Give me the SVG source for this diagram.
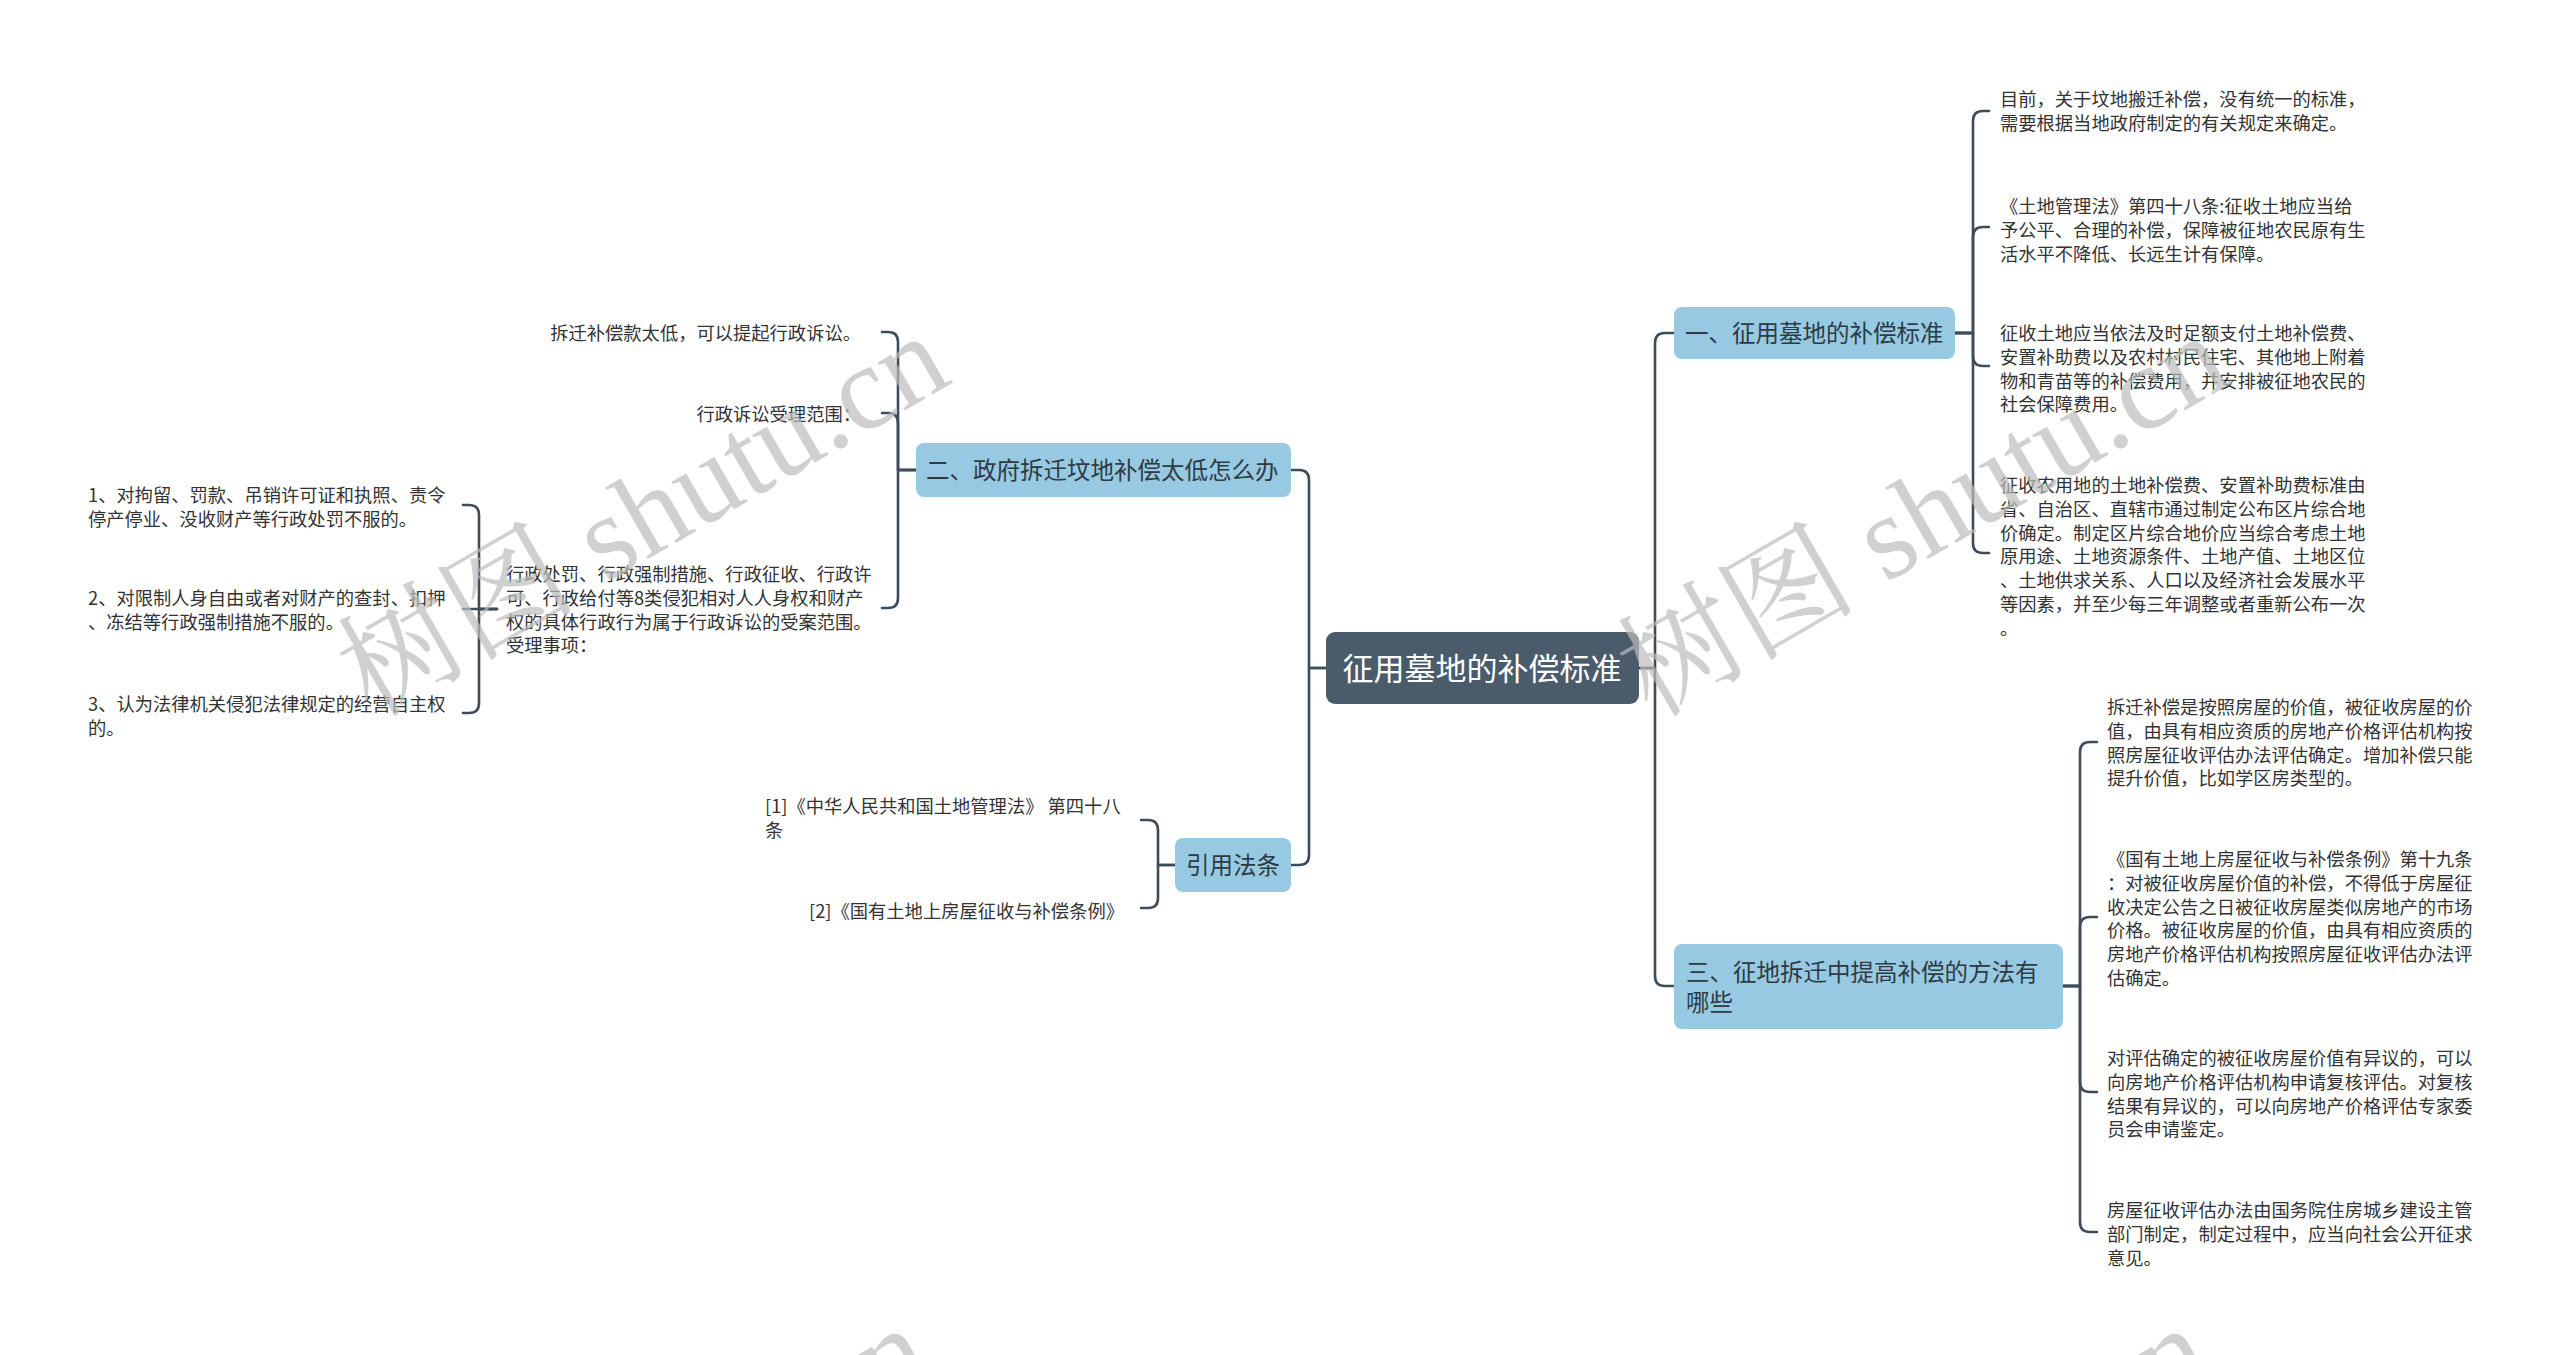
<svg xmlns="http://www.w3.org/2000/svg" width="2560" height="1355" viewBox="0 0 2560 1355">
<style>
.conn{fill:none;stroke:#3e4c5a;stroke-width:2.6;stroke-linecap:round;stroke-linejoin:round}
.leaf{font-family:"Noto Sans CJK SC","Noto Sans",sans-serif;font-size:18.3px;fill:#333333}
.l1box{fill:#97cae2}
.l1{font-family:"Noto Sans CJK SC","Noto Sans",sans-serif;font-size:23.5px;fill:#2e3a44}
.rootbox{fill:#4a5c6c}
.roottext{font-family:"Noto Sans CJK SC","Noto Sans",sans-serif;font-size:31px;fill:#ffffff}
.wm{font-family:"Liberation Serif","Noto Serif CJK SC","Noto Sans CJK SC",serif;font-size:120px;fill:#bdbdbd;opacity:0.7}
</style>
<rect width="2560" height="1355" fill="#ffffff"/>

<g id="connectors">
<path class="conn" d="M1639,668 H1655 V343 Q1655,333 1665,333 H1674"/>
<path class="conn" d="M1639,668 H1655 V976 Q1655,986 1665,986 H1674"/>
<path class="conn" d="M1955,333 H1973 V121 Q1973,111 1983,111 H1989"/>
<path class="conn" d="M1955,333 H1973 V237 Q1973,227 1983,227 H1989"/>
<path class="conn" d="M1955,333 H1973 V356 Q1973,366 1983,366 H1989"/>
<path class="conn" d="M1955,333 H1973 V543 Q1973,553 1983,553 H1989"/>
<path class="conn" d="M2063,986 H2080 V752 Q2080,742 2090,742 H2097"/>
<path class="conn" d="M2063,986 H2080 V927 Q2080,917 2090,917 H2097"/>
<path class="conn" d="M2063,986 H2080 V1082 Q2080,1092 2090,1092 H2097"/>
<path class="conn" d="M2063,986 H2080 V1222 Q2080,1232 2090,1232 H2097"/>
<path class="conn" d="M1326,668 H1309 V480 Q1309,470 1299,470 H1291"/>
<path class="conn" d="M1326,668 H1309 V855 Q1309,865 1299,865 H1291"/>
<path class="conn" d="M916,470 H898 V342 Q898,332 888,332 H882"/>
<path class="conn" d="M916,470 H898 V423 Q898,413 888,413 H882"/>
<path class="conn" d="M916,470 H898 V598 Q898,608 888,608 H882"/>
<path class="conn" d="M497,609 H479 V515 Q479,505 469,505 H463"/>
<path class="conn" d="M497,609 H463"/>
<path class="conn" d="M497,609 H479 V703 Q479,713 469,713 H463"/>
<path class="conn" d="M1175,865 H1158 V830 Q1158,820 1148,820 H1141"/>
<path class="conn" d="M1175,865 H1158 V898 Q1158,908 1148,908 H1141"/>
</g>

<g id="root">
<rect class="rootbox" x="1326" y="632" width="313" height="72" rx="9"/>
<text class="roottext" x="1482" y="680" text-anchor="middle">征用墓地的补偿标准</text>
</g>

<g id="node-1">
<rect class="l1box" x="1674" y="307" width="281" height="52" rx="8"/>
<text class="l1" x="1685" y="342">一、征用墓地的补偿标准</text>
</g>
<g id="node-1-1">
<text class="leaf" x="2000" y="106"><tspan x="2000">目前，关于坟地搬迁补偿，没有统一的标准，</tspan><tspan x="2000" dy="23.8">需要根据当地政府制定的有关规定来确定。</tspan></text>
</g>
<g id="node-1-2">
<text class="leaf" x="2000" y="213"><tspan x="2000">《土地管理法》第四十八条:征收土地应当给</tspan><tspan x="2000" dy="23.8">予公平、合理的补偿，保障被征地农民原有生</tspan><tspan x="2000" dy="23.8">活水平不降低、长远生计有保障。</tspan></text>
</g>
<g id="node-1-3">
<text class="leaf" x="2000" y="340"><tspan x="2000">征收土地应当依法及时足额支付土地补偿费、</tspan><tspan x="2000" dy="23.8">安置补助费以及农村村民住宅、其他地上附着</tspan><tspan x="2000" dy="23.8">物和青苗等的补偿费用，并安排被征地农民的</tspan><tspan x="2000" dy="23.8">社会保障费用。</tspan></text>
</g>
<g id="node-1-4">
<text class="leaf" x="2000" y="492"><tspan x="2000">征收农用地的土地补偿费、安置补助费标准由</tspan><tspan x="2000" dy="23.8">省、自治区、直辖市通过制定公布区片综合地</tspan><tspan x="2000" dy="23.8">价确定。制定区片综合地价应当综合考虑土地</tspan><tspan x="2000" dy="23.8">原用途、土地资源条件、土地产值、土地区位</tspan><tspan x="2000" dy="23.8">、土地供求关系、人口以及经济社会发展水平</tspan><tspan x="2000" dy="23.8">等因素，并至少每三年调整或者重新公布一次</tspan><tspan x="2000" dy="23.8">。</tspan></text>
</g>

<g id="node-3">
<rect class="l1box" x="1674" y="944" width="389" height="85" rx="8"/>
<text class="l1" x="1686" y="981"><tspan x="1686">三、征地拆迁中提高补偿的方法有</tspan><tspan x="1686" dy="30">哪些</tspan></text>
</g>
<g id="node-3-1">
<text class="leaf" x="2107" y="714"><tspan x="2107">拆迁补偿是按照房屋的价值，被征收房屋的价</tspan><tspan x="2107" dy="23.8">值，由具有相应资质的房地产价格评估机构按</tspan><tspan x="2107" dy="23.8">照房屋征收评估办法评估确定。增加补偿只能</tspan><tspan x="2107" dy="23.8">提升价值，比如学区房类型的。</tspan></text>
</g>
<g id="node-3-2">
<text class="leaf" x="2107" y="866"><tspan x="2107">《国有土地上房屋征收与补偿条例》第十九条</tspan><tspan x="2107" dy="23.8">：对被征收房屋价值的补偿，不得低于房屋征</tspan><tspan x="2107" dy="23.8">收决定公告之日被征收房屋类似房地产的市场</tspan><tspan x="2107" dy="23.8">价格。被征收房屋的价值，由具有相应资质的</tspan><tspan x="2107" dy="23.8">房地产价格评估机构按照房屋征收评估办法评</tspan><tspan x="2107" dy="23.8">估确定。</tspan></text>
</g>
<g id="node-3-3">
<text class="leaf" x="2107" y="1065"><tspan x="2107">对评估确定的被征收房屋价值有异议的，可以</tspan><tspan x="2107" dy="23.8">向房地产价格评估机构申请复核评估。对复核</tspan><tspan x="2107" dy="23.8">结果有异议的，可以向房地产价格评估专家委</tspan><tspan x="2107" dy="23.8">员会申请鉴定。</tspan></text>
</g>
<g id="node-3-4">
<text class="leaf" x="2107" y="1217"><tspan x="2107">房屋征收评估办法由国务院住房城乡建设主管</tspan><tspan x="2107" dy="23.8">部门制定，制定过程中，应当向社会公开征求</tspan><tspan x="2107" dy="23.8">意见。</tspan></text>
</g>

<g id="node-2">
<rect class="l1box" x="916" y="443" width="375" height="54" rx="8"/>
<text class="l1" x="926" y="479">二、政府拆迁坟地补偿太低怎么办</text>
</g>
<g id="node-2-1">
<text class="leaf" x="861" y="340" text-anchor="end">拆迁补偿款太低，可以提起行政诉讼。</text>
</g>
<g id="node-2-2">
<text class="leaf" x="861" y="421" text-anchor="end">行政诉讼受理范围：</text>
</g>
<g id="node-2-3">
<text class="leaf" x="506" y="581"><tspan x="506">行政处罚、行政强制措施、行政征收、行政许</tspan><tspan x="506" dy="23.8">可、行政给付等8类侵犯相对人人身权和财产</tspan><tspan x="506" dy="23.8">权的具体行政行为属于行政诉讼的受案范围。</tspan><tspan x="506" dy="23.8">受理事项：</tspan></text>
</g>
<g id="node-2-3-1">
<text class="leaf" x="88" y="502"><tspan x="88">1、对拘留、罚款、吊销许可证和执照、责令</tspan><tspan x="88" dy="23.8">停产停业、没收财产等行政处罚不服的。</tspan></text>
</g>
<g id="node-2-3-2">
<text class="leaf" x="88" y="605"><tspan x="88">2、对限制人身自由或者对财产的查封、扣押</tspan><tspan x="88" dy="23.8">、冻结等行政强制措施不服的。</tspan></text>
</g>
<g id="node-2-3-3">
<text class="leaf" x="88" y="711"><tspan x="88">3、认为法律机关侵犯法律规定的经营自主权</tspan><tspan x="88" dy="23.8">的。</tspan></text>
</g>

<g id="node-4">
<rect class="l1box" x="1175" y="838" width="116" height="54" rx="8"/>
<text class="l1" x="1233" y="874" text-anchor="middle">引用法条</text>
</g>
<g id="node-4-1">
<text class="leaf" x="765" y="813"><tspan x="765">[1]《中华人民共和国土地管理法》 第四十八</tspan><tspan x="765" dy="23.8">条</tspan></text>
</g>
<g id="node-4-2">
<text class="leaf" x="1124" y="918" text-anchor="end">[2]《国有土地上房屋征收与补偿条例》</text>
</g>

<g id="watermark">
<text class="wm" x="645" y="555" text-anchor="middle" transform="rotate(-30 645 519)">树图 shutu.cn</text>
<text class="wm" x="1925" y="555" text-anchor="middle" transform="rotate(-30 1925 519)">树图 shutu.cn</text>
<text class="wm" x="626" y="1547" text-anchor="middle" transform="rotate(-30 626 1511)">树图 shutu.cn</text>
<text class="wm" x="1906" y="1547" text-anchor="middle" transform="rotate(-30 1906 1511)">树图 shutu.cn</text>
</g>
</svg>
